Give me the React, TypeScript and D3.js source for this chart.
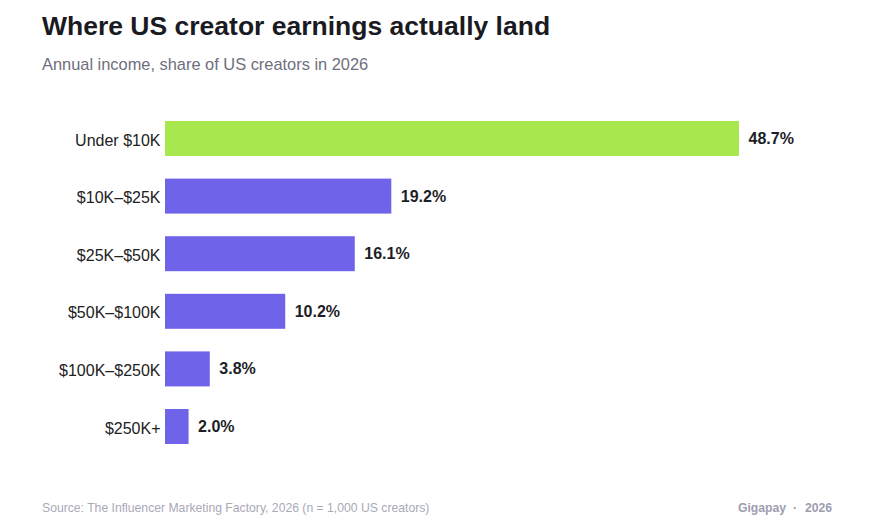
import React from "react";
import * as d3 from "d3";

const categories = ["Under $10K", "$10K–$25K", "$25K–$50K", "$50K–$100K", "$100K–$250K", "$250K+"];
const shares = [48.7, 19.2, 16.1, 10.2, 3.8, 2.0];
const highlight = ["Under $10K"];

const W = 873;
const H = 527;
const FONT = "'Liberation Sans', Arial, Helvetica, sans-serif";

export default function App() {
  const x = d3.scaleLinear().domain([0, 48.7]).range([165, 739]);
  const y = d3.scaleBand<string>().domain(categories).range([98.4, 466.6]).paddingInner(0.3924).paddingOuter(0.3924);
  const data = categories.map((c, i) => ({ c, v: shares[i] }));
  return (
    <svg width={W} height={H} style={{ position: "absolute", left: 0, top: 0, background: "#fff" }} fontFamily={FONT}>
      <text x={42} y={35} fontSize={26.5} fontWeight={700} fill="#1a1a22">Where US creator earnings actually land</text>
      <text x={42} y={70} fontSize={16.4} fill="#6e6e7e">Annual income, share of US creators in 2026</text>
      {data.map((d) => (
        <g key={d.c}>
          <rect x={x(0)} y={y(d.c)} width={x(d.v) - x(0)} height={y.bandwidth()} fill={highlight.includes(d.c) ? "#a8e84e" : "#6f63e9"} />
          <text x={160.5} y={(y(d.c) as number) + y.bandwidth() / 2 + 1.5} dy="0.35em" textAnchor="end" fontSize={16} fill="#222">{d.c}</text>
          <text x={x(d.v) + 9.5} y={(y(d.c) as number) + y.bandwidth() / 2} dy="0.35em" fontSize={16} fontWeight={700} fill="#1e1e26">{d.v.toFixed(1) + "%"}</text>
        </g>
      ))}
      <text x={42} y={512} fontSize={12.2} fill="#a9a9b8">Source: The Influencer Marketing Factory, 2026 (n = 1,000 US creators)</text>
      <text x={786} y={512} fontSize={12.2} fontWeight={700} fill="#9d9daf" textAnchor="end">Gigapay</text>
      <text x={795} y={512} fontSize={12.2} fontWeight={700} fill="#9d9daf" textAnchor="middle">·</text>
      <text x={805} y={512} fontSize={12.2} fontWeight={700} fill="#9d9daf">2026</text>
    </svg>
  );
}
